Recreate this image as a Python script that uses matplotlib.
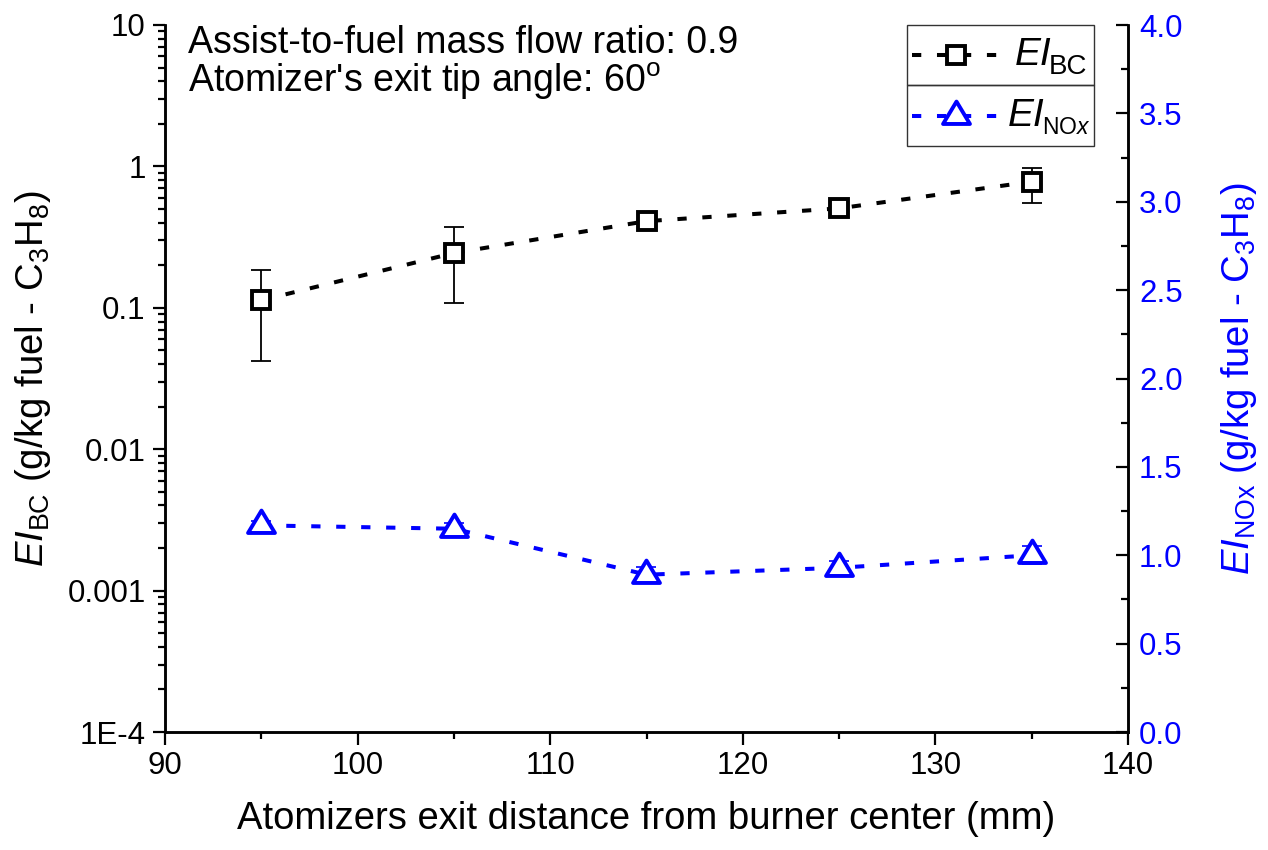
import matplotlib
matplotlib.use("Agg")
import matplotlib.pyplot as plt
import numpy as np
from matplotlib.path import Path
from matplotlib.ticker import LogLocator, NullFormatter, MultipleLocator
from matplotlib.lines import Line2D
from matplotlib.patches import Rectangle

plt.rcParams['font.family'] = ['Liberation Sans', 'DejaVu Sans']
plt.rcParams['mathtext.fontset'] = 'custom'
plt.rcParams['mathtext.rm'] = 'Liberation Sans'
plt.rcParams['mathtext.it'] = 'Liberation Sans:italic'
plt.rcParams['mathtext.bf'] = 'Liberation Sans:bold'

# ---- data ----
distance_mm = [95, 105, 115, 125, 135]
ei_bc = [0.113, 0.244, 0.41, 0.505, 0.78]
ei_bc_err_low = [0.071, 0.136, 0.03, 0.03, 0.225]
ei_bc_err_high = [0.073, 0.128, 0.03, 0.03, 0.20]
ei_nox = [1.169, 1.150, 0.890, 0.929, 1.000]
ei_nox_err = [0.026, 0.034, 0.045, 0.040, 0.05]

left_ticks = [1e-4, 1e-3, 1e-2, 1e-1, 1, 10]
left_labels = ['1E-4', '0.001', '0.01', '0.1', '1', '10']
right_ticks = [0.0, 0.5, 1.0, 1.5, 2.0, 2.5, 3.0, 3.5, 4.0]
right_labels = ['0.0', '0.5', '1.0', '1.5', '2.0', '2.5', '3.0', '3.5', '4.0']
x_ticks = [90, 100, 110, 120, 130, 140]

BLUE = '#0000ff'

# centroid-centred triangle marker (Origin style)
tri = Path([(0, 2), (-1.8, -1), (1.8, -1), (0, 2)],
           [Path.MOVETO, Path.LINETO, Path.LINETO, Path.CLOSEPOLY])

W, H = 1268, 850
fig = plt.figure(figsize=(W/100, H/100), dpi=100)
ax = fig.add_axes([165/W, 1 - 732/H, (1128-165)/W, (732-25)/H])
ax2 = ax.twinx()

lw_line = 2.9
dash = (2.3, 3.9)
tri_ms, tri_mew = 21.5, 2.8
sq_ms, sq_mew = 12.5, 2.8

# BC series
ax.errorbar(distance_mm, ei_bc, yerr=[ei_bc_err_low, ei_bc_err_high], fmt='none',
            ecolor='black', elinewidth=1.3, capsize=7.5, capthick=1.3, zorder=2)
ax.plot(distance_mm, ei_bc, color='black', lw=lw_line, dashes=dash,
        dash_capstyle='butt', marker='s', markersize=sq_ms, markerfacecolor='white',
        markeredgecolor='black', markeredgewidth=sq_mew, zorder=3)

# NOx series
ax2.errorbar(distance_mm, ei_nox, yerr=ei_nox_err, fmt='none',
             ecolor=BLUE, elinewidth=1.2, capsize=7.5, capthick=1.2, zorder=2)
ax2.plot(distance_mm, ei_nox, color=BLUE, lw=lw_line, dashes=dash,
         dash_capstyle='butt', marker=tri, markersize=tri_ms, markerfacecolor='white',
         markeredgecolor=BLUE, markeredgewidth=tri_mew, zorder=3)

# axes setup
ax.set_xlim(90, 140)
ax.set_yscale('log')
ax.set_ylim(1e-4, 10)
ax.set_yticks(left_ticks)
ax.set_yticklabels(left_labels)
ax.yaxis.set_minor_locator(LogLocator(base=10, subs=np.arange(2, 10)))
ax.yaxis.set_minor_formatter(NullFormatter())
ax.set_xticks(x_ticks)
ax.xaxis.set_minor_locator(MultipleLocator(5))

ax2.set_ylim(0, 4)
ax2.set_yticks(right_ticks)
ax2.set_yticklabels(right_labels)
ax2.yaxis.set_minor_locator(MultipleLocator(0.25))

for a in (ax, ax2):
    a.spines['top'].set_visible(False)
    for s in a.spines.values():
        s.set_linewidth(1.8)

ax.tick_params(axis='both', which='major', direction='out', length=9, width=1.6,
               labelsize=22.5, pad=5)
ax.tick_params(axis='both', which='minor', direction='out', length=5, width=1.6)
ax.tick_params(axis='y', which='both', right=False)
ax2.tick_params(axis='y', which='major', direction='in', length=9, width=1.6,
                labelsize=22.5, labelcolor=BLUE, pad=8)
ax2.tick_params(axis='y', which='minor', direction='in', length=5, width=1.6)

ax.set_xlabel('Atomizers exit distance from burner center (mm)', fontsize=27.5, labelpad=14)
ax.set_ylabel(r'$\mathit{EI}_{\mathrm{BC}}$ (g/kg fuel - C$_3$H$_8$)', fontsize=27.5, labelpad=10)
ax2.set_ylabel(r'$\mathit{EI}_{\mathrm{NOx}}$ (g/kg fuel - C$_3$H$_8$)', fontsize=27.5,
               color=BLUE, labelpad=26)

# annotation
ax.text(0.024, 0.974, 'Assist-to-fuel mass flow ratio: 0.9', transform=ax.transAxes,
        fontsize=27, va='center', ha='left')
ax.text(0.024, 0.92, "Atomizer's exit tip angle: 60$^{\\mathrm{o}}$", transform=ax.transAxes,
        fontsize=27, va='center', ha='left')

# Origin-style boxed legend
lx0, lx1 = (907-165)/963, (1094-165)/963
ly_top, ly_mid, ly_bot = 1.0, (732-85)/707, (732-146)/707
for (yb, yt) in [(ly_mid, ly_top), (ly_bot, ly_mid)]:
    ax2.add_patch(Rectangle((lx0, yb), lx1 - lx0, yt - yb, transform=ax2.transAxes,
                            facecolor='none', edgecolor='#333333', lw=1.0,
                            clip_on=False, zorder=5))
sx0, sx1, smid = (912-165)/963, (1000-165)/963, (956-165)/963
rows = [((ly_top + ly_mid)/2, 'black', 's', sq_ms, sq_mew, 1015, 'BC', 20),
        ((ly_mid + ly_bot)/2, BLUE, tri, tri_ms, tri_mew, 1008, r'NO$\mathit{x}$', 16.5)]
fig.canvas.draw()
renderer = fig.canvas.get_renderer()
for yc, col, mk, ms, mew, txpx, sub, subsize in rows:
    ax2.add_line(Line2D([sx0, sx1], [yc, yc], transform=ax2.transAxes, color=col,
                        lw=lw_line, dashes=dash, dash_capstyle='butt', clip_on=False, zorder=6))
    ax2.add_line(Line2D([smid], [yc], transform=ax2.transAxes, color=col, marker=mk,
                        markersize=ms, markerfacecolor='white', markeredgecolor=col,
                        markeredgewidth=mew, clip_on=False, zorder=7))
    t = ax2.text((txpx-165)/963, yc, 'EI', transform=ax2.transAxes, fontsize=28,
                 style='italic', va='center', ha='left', color='black', zorder=7)
    bb = t.get_window_extent(renderer)
    ycpx = ax2.transAxes.transform((0, yc))[1]
    fig.text((bb.x1 - 3)/W, (ycpx - 12)/H, sub, fontsize=subsize, va='center',
             ha='left', color='black', zorder=7)

fig.savefig('out.png', dpi=100)
